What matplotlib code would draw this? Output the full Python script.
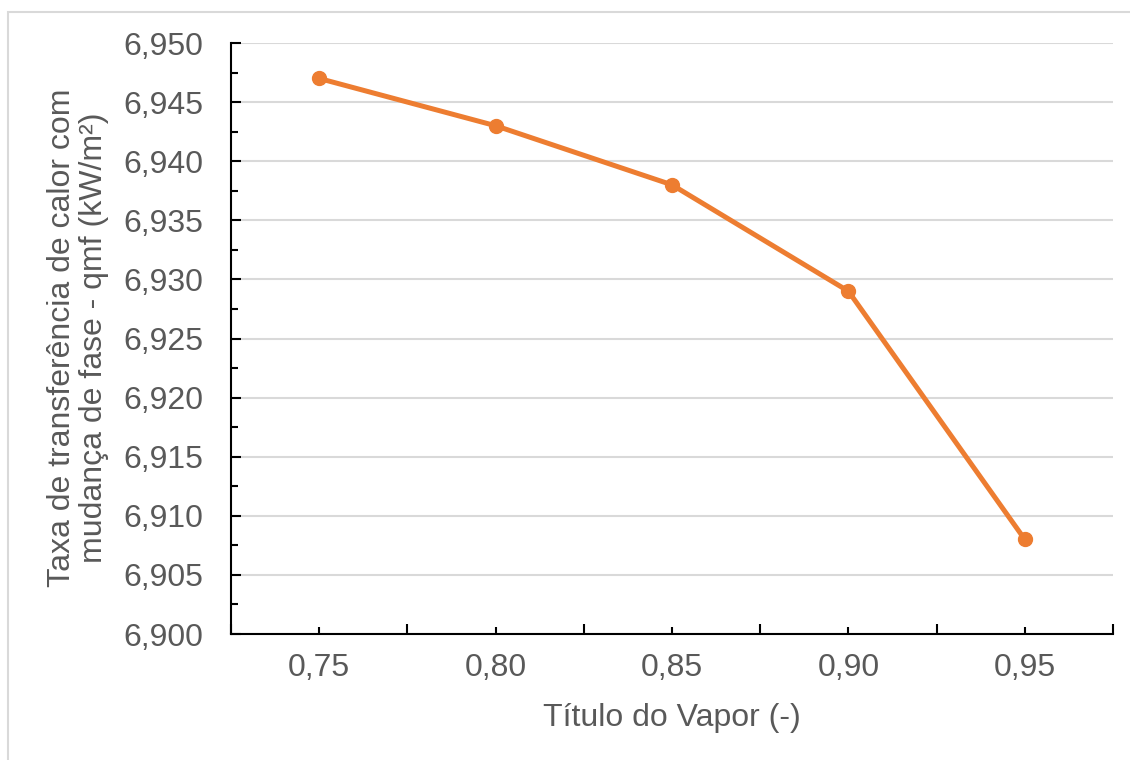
import matplotlib
matplotlib.use("Agg")
from matplotlib import pyplot as plt
from matplotlib.patches import Rectangle
from matplotlib.ticker import FuncFormatter, MultipleLocator, FixedLocator
import numpy as np

plt.rcParams['font.family'] = ['Liberation Sans', 'DejaVu Sans']

# Dados
titulo = [0.75, 0.80, 0.85, 0.90, 0.95]
qmf = [6.947, 6.943, 6.938, 6.929, 6.908]

cor_texto = '#595959'
laranja = '#ED7D31'

fig = plt.figure(figsize=(11.3, 7.6), dpi=100)
fig.patches.append(Rectangle((8 / 1130, -0.05), 1.2, 1 - 12 / 760 + 0.05,
                             transform=fig.transFigure, fill=False,
                             edgecolor='#D9D9D9', linewidth=1.5))

ax = fig.add_axes([231 / 1130, 1 - 634 / 760, (1113 - 231) / 1130, (634 - 43) / 760])

pos = np.arange(len(titulo))
ax.plot(pos, qmf, color=laranja, linewidth=3.6, marker='o', markersize=10,
        solid_capstyle='round', zorder=3)

ax.set_xlim(-0.5, len(titulo) - 0.5)
ax.set_ylim(6.900, 6.950)

# eixo y
ax.yaxis.set_major_locator(MultipleLocator(0.005))
ax.yaxis.set_minor_locator(MultipleLocator(0.0025))
ax.yaxis.set_major_formatter(FuncFormatter(lambda v, p: f'{v:.3f}'.replace('.', ',')))

# eixo x (categorias)
ax.xaxis.set_major_locator(FixedLocator(np.arange(-0.5, len(titulo), 1.0)))
ax.xaxis.set_minor_locator(FixedLocator(pos))
ax.xaxis.set_major_formatter(FuncFormatter(lambda v, p: ''))
ax.xaxis.set_minor_formatter(FuncFormatter(
    lambda v, p: f'{titulo[int(round(v))]:.2f}'.replace('.', ',')))

ax.grid(axis='y', which='major', color='#D9D9D9', linewidth=1.5)
ax.set_axisbelow(True)

for s in ['top', 'right']:
    ax.spines[s].set_visible(False)
for s in ['left', 'bottom']:
    ax.spines[s].set_color('black')
    ax.spines[s].set_linewidth(1.5)

ax.tick_params(axis='both', which='both', direction='in', colors='black',
               labelcolor=cor_texto, labelsize=23, width=1.5)
ax.tick_params(axis='both', which='major', length=7)
ax.tick_params(axis='both', which='minor', length=5)
ax.tick_params(axis='y', which='major', pad=20)
ax.tick_params(axis='x', which='minor', pad=14)

fig.text(672 / 1130, 1 - 718 / 760, 'Título do Vapor (-)', ha='center', va='center',
         fontsize=23, color=cor_texto)
fig.text(78 / 1130, 1 - 338 / 760,
         'Taxa de transferência de calor com\nmudança de fase - qmf (kW/m²)',
         ha='center', va='center', rotation=90, fontsize=23, color=cor_texto,
         linespacing=1.05)

fig.savefig('out.png', dpi=100)
